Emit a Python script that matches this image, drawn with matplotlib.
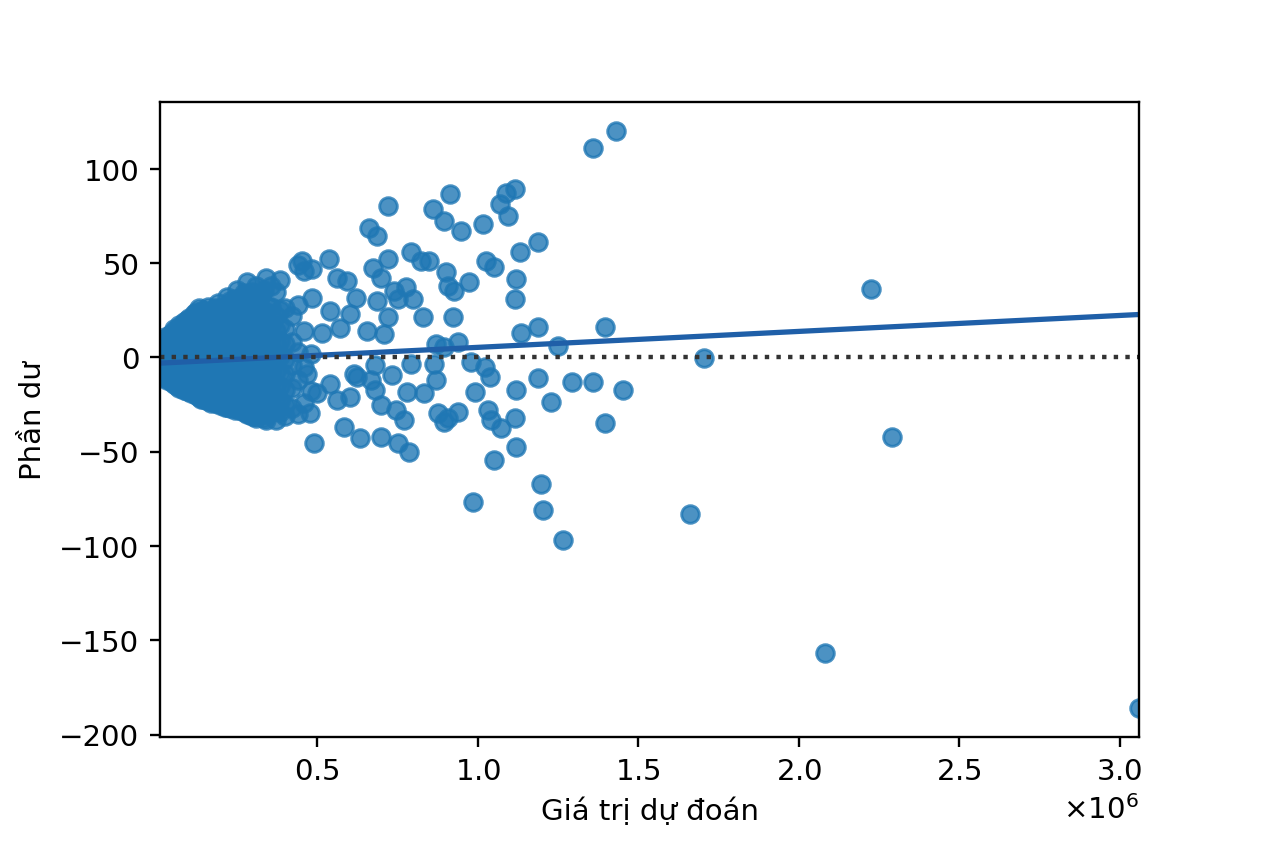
import numpy as np
import matplotlib
matplotlib.use('Agg')
import matplotlib.pyplot as plt

# Dense cluster of small predictions: x positions (millions) and residuals at each
near_pred = [0.01, 0.025, 0.04, 0.055, 0.07, 0.085, 0.10, 0.115, 0.13, 0.145,
             0.16, 0.175, 0.19, 0.205, 0.22, 0.235, 0.25, 0.265, 0.28, 0.295,
             0.31, 0.325, 0.34, 0.355, 0.37, 0.385, 0.40, 0.42, 0.44, 0.46, 0.48]
near_resid = [
    [-9, -5, 1, 8],
    [-11, -8, -2, 4, 11],
    [-12, -9, -3, 3, 12],
    [-14, -11, -5, 1, 7, 15],
    [-16, -13, -7, -1, 5, 11, 17],
    [-17, -14, -8, -2, 4, 10, 19],
    [-18, -15, -9, -3, 3, 9, 15, 21],
    [-19, -16, -10, -4, 2, 8, 14, 23],
    [-21, -18, -12, -6, 0, 6, 12, 18, 26],
    [-22, -19, -13, -7, -1, 5, 11, 17, 25],
    [-23, -20, -14, -8, -2, 4, 10, 16, 27],
    [-23, -20, -14, -8, -2, 4, 10, 16, 24],
    [-24, -21, -15, -9, -3, 3, 9, 15, 21, 29],
    [-25, -22, -16, -10, -4, 2, 8, 14, 23],
    [-26, -23, -17, -11, -5, 1, 7, 13, 19, 32],
    [-26, -23, -17, -11, -5, 1, 7, 13, 19, 28],
    [-27, -24, -18, -12, -6, 0, 6, 12, 18, 24, 36],
    [-28, -25, -19, -13, -7, -1, 5, 11, 17, 23, 32],
    [-30, -27, -21, -15, -9, -3, 3, 9, 15, 21, 27, 40],
    [-31, -28, -22, -16, -10, -4, 2, 8, 14, 20, 35],
    [-32, -29, -23, -17, -11, -5, 1, 7, 13, 19, 25, 38],
    [-30, -27, -21, -15, -9, -3, 3, 9, 15, 21, 33],
    [-33, -30, -24, -18, -12, -6, 0, 6, 12, 18, 24, 42],
    [-28, -25, -19, -13, -7, -1, 5, 11, 17, 27, 38],
    [-33, -28, -21, -14, -7, 0, 7, 14, 22, 35],
    [-29, -23, -15, -8, 1, 9, 17, 25, 41],
    [-31, -25, -17, -9, -1, 7, 15, 26],
    [-27, -16, -4, 8, 22],
    [-30, -12, 3, 28, 49],
    [-24, -5, 14, 46],
    [-18, 2],
]

# Second, offset set of columns that fills in the dense cluster
fill_pred = [0.0175, 0.0325, 0.0475, 0.0625, 0.0775, 0.0925, 0.1075, 0.1225,
             0.1375, 0.1525, 0.1675, 0.1825, 0.1975, 0.2125, 0.2275, 0.2425,
             0.2575, 0.2725, 0.2875, 0.3025, 0.3175, 0.3325, 0.3475]
fill_resid = [
    [-10, -7, -1, 7],
    [-12, -10, -4, 2, 10],
    [-13, -11, -6, 0, 6, 13],
    [-15, -12, -7, -1, 5, 14],
    [-16, -14, -8, -2, 3, 9, 16],
    [-18, -16, -10, -5, 1, 7, 13, 20],
    [-19, -17, -11, -6, 0, 6, 12, 20],
    [-20, -18, -12, -7, -1, 5, 11, 16, 24],
    [-22, -20, -14, -9, -3, 3, 9, 15, 23],
    [-22, -20, -15, -10, -4, 2, 8, 14, 23],
    [-24, -21, -16, -11, -5, 1, 7, 13, 22],
    [-24, -22, -17, -12, -6, 0, 6, 12, 18, 26],
    [-25, -23, -18, -13, -7, -1, 5, 11, 17, 26],
    [-26, -24, -19, -13, -8, -2, 4, 10, 16, 25],
    [-27, -25, -20, -14, -8, -2, 4, 10, 16, 22, 30],
    [-28, -25, -20, -14, -9, -3, 3, 9, 15, 21, 31],
    [-28, -26, -21, -15, -10, -4, 2, 8, 14, 20, 29],
    [-29, -27, -21, -16, -10, -4, 2, 8, 14, 20, 34],
    [-30, -28, -22, -16, -11, -5, 1, 7, 13, 19, 28],
    [-31, -28, -23, -17, -11, -5, 1, 7, 13, 22, 32],
    [-30, -27, -21, -15, -9, -3, 4, 11, 18, 30],
    [-32, -28, -21, -14, -7, 0, 7, 15, 23, 36],
    [-30, -25, -17, -9, -1, 7, 15, 27],
]

# Scattered points in the middle range (millions, residual)
mid_pred = [0.453, 0.484, 0.5625, 0.594, 0.619, 0.603, 0.572, 0.516, 0.54, 0.484,
            0.537, 0.719, 0.672, 0.697, 0.7375, 0.662, 0.6875, 0.721, 0.791, 0.822,
            0.849, 0.775, 0.797, 0.75, 0.6875, 0.719, 0.828, 0.656, 0.708,
            0.859, 0.896, 0.912, 0.947, 1.016, 1.068, 1.0875, 1.115, 1.094, 1.025,
            1.052, 0.9, 0.974, 0.927, 0.906, 1.119, 1.115, 0.922, 1.1875, 1.133,
            1.1875, 1.134, 0.869, 0.9375, 0.896, 1.25, 1.396,
            0.469, 0.54, 0.603, 0.625, 0.5, 0.478, 0.5625, 0.615, 0.681, 0.734,
            0.791, 0.865, 0.869, 0.978, 1.021, 1.037, 1.1875, 0.666, 0.781, 0.833,
            0.99, 1.119, 0.681, 0.697, 0.744, 0.771, 0.875, 0.906, 0.9375, 0.896,
            1.031, 1.041, 1.072, 1.115, 0.583, 0.49, 0.634, 0.697, 0.75, 0.787,
            1.052, 1.119, 0.984, 1.198, 1.203, 1.266, 1.292, 1.359, 1.453, 1.229,
            1.396, 1.432, 1.359]
mid_resid = [51.3, 47.0, 42.3, 40.7, 31.7, 23.3, 15.9, 13.2, 24.9, 31.7,
             52.4, 52.4, 47.6, 42.3, 35.4, 68.9, 64.6, 80.4, 55.7, 51.3,
             51.3, 37.2, 31.2, 31.2, 30.2, 21.3, 21.3, 14.3, 12.7,
             78.8, 72.5, 86.6, 67.2, 70.9, 81.3, 87.5, 89.3, 75.1, 51.3,
             47.8, 45.1, 39.8, 35.4, 38.1, 41.8, 31.2, 21.3, 61.0, 55.7,
             16.4, 13.2, 7.4, 8.1, 5.4, 6.3, 16.4,
             -8.5, -13.8, -21.2, -10.6, -19.0, -29.6, -22.8, -8.5, -4.2, -9.5,
             -3.2, -3.2, -12.2, -2.5, -5.1, -10.4, -11.1, -12.2, -18.4, -19.0,
             -18.4, -17.5, -17.5, -25.4, -28.0, -33.3, -29.6, -32.3, -28.9, -34.2,
             -28.0, -33.3, -37.6, -32.3, -36.9, -45.5, -42.9, -42.2, -45.5, -50.1,
             -54.5, -47.5, -76.6, -67.2, -81.0, -96.8, -13.1, -13.1, -17.5, -23.7,
             -34.8, 120.1, 111.0]

# Large predictions
far_pred = [1.662, 1.705, 2.081, 2.225, 2.29, 3.06]
far_resid = [-83.1, -0.2, -157.0, 36.5, -42.3, -186.0]

# Trend line (residual at both ends of the x range)
trend_pred = [0.01, 3.06]
trend_resid = [-3.0, 22.8]

xs = []
ys = []
for px, col in zip(near_pred + fill_pred, near_resid + fill_resid):
    xs += [px] * len(col)
    ys += col
xs += mid_pred + far_pred
ys += mid_resid + far_resid
x = np.array(xs) * 1e6
y = np.array(ys, dtype=float)

fig = plt.figure(figsize=(6, 4), dpi=210.67)
ax = fig.add_axes([0.1266, 0.1246, 0.7745, 0.7533])

ax.scatter(x, y, s=36, color='C0', alpha=0.8)
ax.plot(np.array(trend_pred) * 1e6, trend_resid, color='#1f5fa8', lw=1.8)
ax.axhline(0, ls=':', c='.2')
ax.set_xlim(x.min(), x.max())
ax.ticklabel_format(axis='x', useMathText=True)
ax.set_xlabel('Giá trị dự đoán')
ax.set_ylabel('Phần dư')

fig.savefig('out.png', dpi=210.67)
